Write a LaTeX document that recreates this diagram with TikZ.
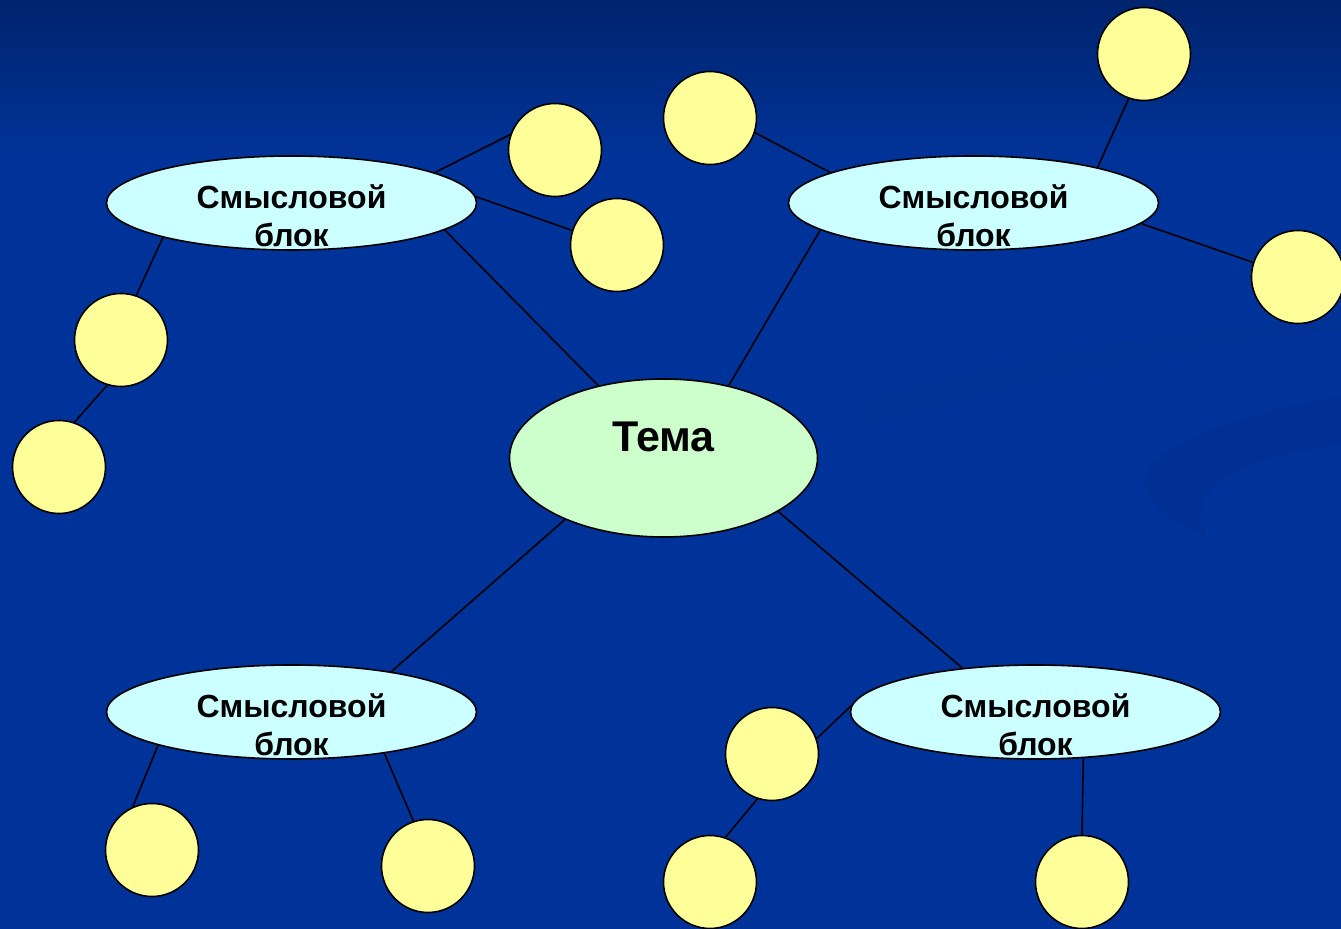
\documentclass[tikz,border=0pt]{standalone}
\usepackage{fontspec}
\setmainfont{Liberation Sans}
\usetikzlibrary{shapes.geometric}
\definecolor{fonblue}{RGB}{0,51,153}
\definecolor{fontop}{RGB}{0,36,110}
\definecolor{swoosh}{RGB}{0,42,135}
\definecolor{blokfill}{RGB}{204,255,255}
\definecolor{temafill}{RGB}{204,255,204}
\definecolor{krugfill}{RGB}{255,255,153}
\begin{document}
\begin{tikzpicture}
  [x=50pt,y=-50pt,
   blok/.style={ellipse,draw,line width=0.8pt,fill=blokfill,inner xsep=0pt,inner ysep=-10pt,
     minimum width=185pt,minimum height=47pt,align=center,
     font=\fontsize{16}{19}\selectfont\bfseries,text height=44pt,text depth=0pt},
   tema/.style={ellipse,draw,line width=0.8pt,fill=temafill,inner sep=0pt,
     minimum width=154pt,minimum height=79pt,
     font=\fontsize{21.5}{24}\selectfont\bfseries,text height=4pt,text depth=10pt},
   krug/.style={circle,draw,line width=0.8pt,fill=krugfill,minimum size=46.5pt,inner sep=0pt}]
  % background
  \useasboundingbox (0,0) rectangle (13.41,9.29);
  \fill[fonblue] (0,0) rectangle (13.41,9.29);
  \shade[top color=fontop,bottom color=fonblue] (0,0) rectangle (13.41,1.6);
  \fill[swoosh,opacity=0.3] (13.41,3.95) .. controls (12.4,4.15) and (11.4,4.45) .. (11.45,4.85)
    .. controls (11.5,5.1) and (11.9,5.3) .. (12.1,5.4)
    .. controls (11.85,5.05) and (12.1,4.6) .. (13.41,4.45) -- cycle;
  \fill[swoosh,opacity=0.2] (8.6,4.0) .. controls (10.3,3.55) and (12,3.25) .. (13.41,3.15)
    -- (13.41,3.3) .. controls (12,3.45) and (10.3,3.8) .. (8.6,4.25) -- cycle;

  \node[tema] (tema) at (6.635,4.58) {Тема};
  \node[blok] (b1) at (2.915,2.03) {Смысловой\\блок};
  \node[blok] (b2) at (9.735,2.03) {Смысловой\\блок};
  \node[blok] (b3) at (2.915,7.12) {Смысловой\\блок};
  \node[blok] (b4) at (10.355,7.12) {Смысловой\\блок};

  \node[krug] (k1) at (5.55,1.50) {};
  \node[krug] (k2) at (6.17,2.45) {};
  \node[krug] (k3) at (1.21,3.40) {};
  \node[krug] (k4) at (0.59,4.67) {};
  \node[krug] (k5) at (7.10,1.18) {};
  \node[krug] (k6) at (11.44,0.54) {};
  \node[krug] (k7) at (12.98,2.77) {};
  \node[krug] (k8) at (7.72,7.54) {};
  \node[krug] (k9) at (7.10,8.82) {};
  \node[krug] (k10) at (10.82,8.82) {};
  \node[krug] (k11) at (1.52,8.50) {};
  \node[krug] (k12) at (4.28,8.66) {};

  \foreach \from/\to in {tema.132/b1.350, tema.48/b2.190, tema.212/b3.22, tema.335/b4.149,
    b1.12/k1.161, b1.2/k2.162, b1.195/k3.71, k3.253/k4.71,
    k5.342/b2.168, b2.16/k6.251, b2.353/k7.162,
    b3.194/k11.114, b3.336/k12.108, b4.178/k8.19, k8.252/k9.71, b4.316/k10.90}
    \draw[line width=0.8pt] (\from) -- (\to);
\end{tikzpicture}
\end{document}
